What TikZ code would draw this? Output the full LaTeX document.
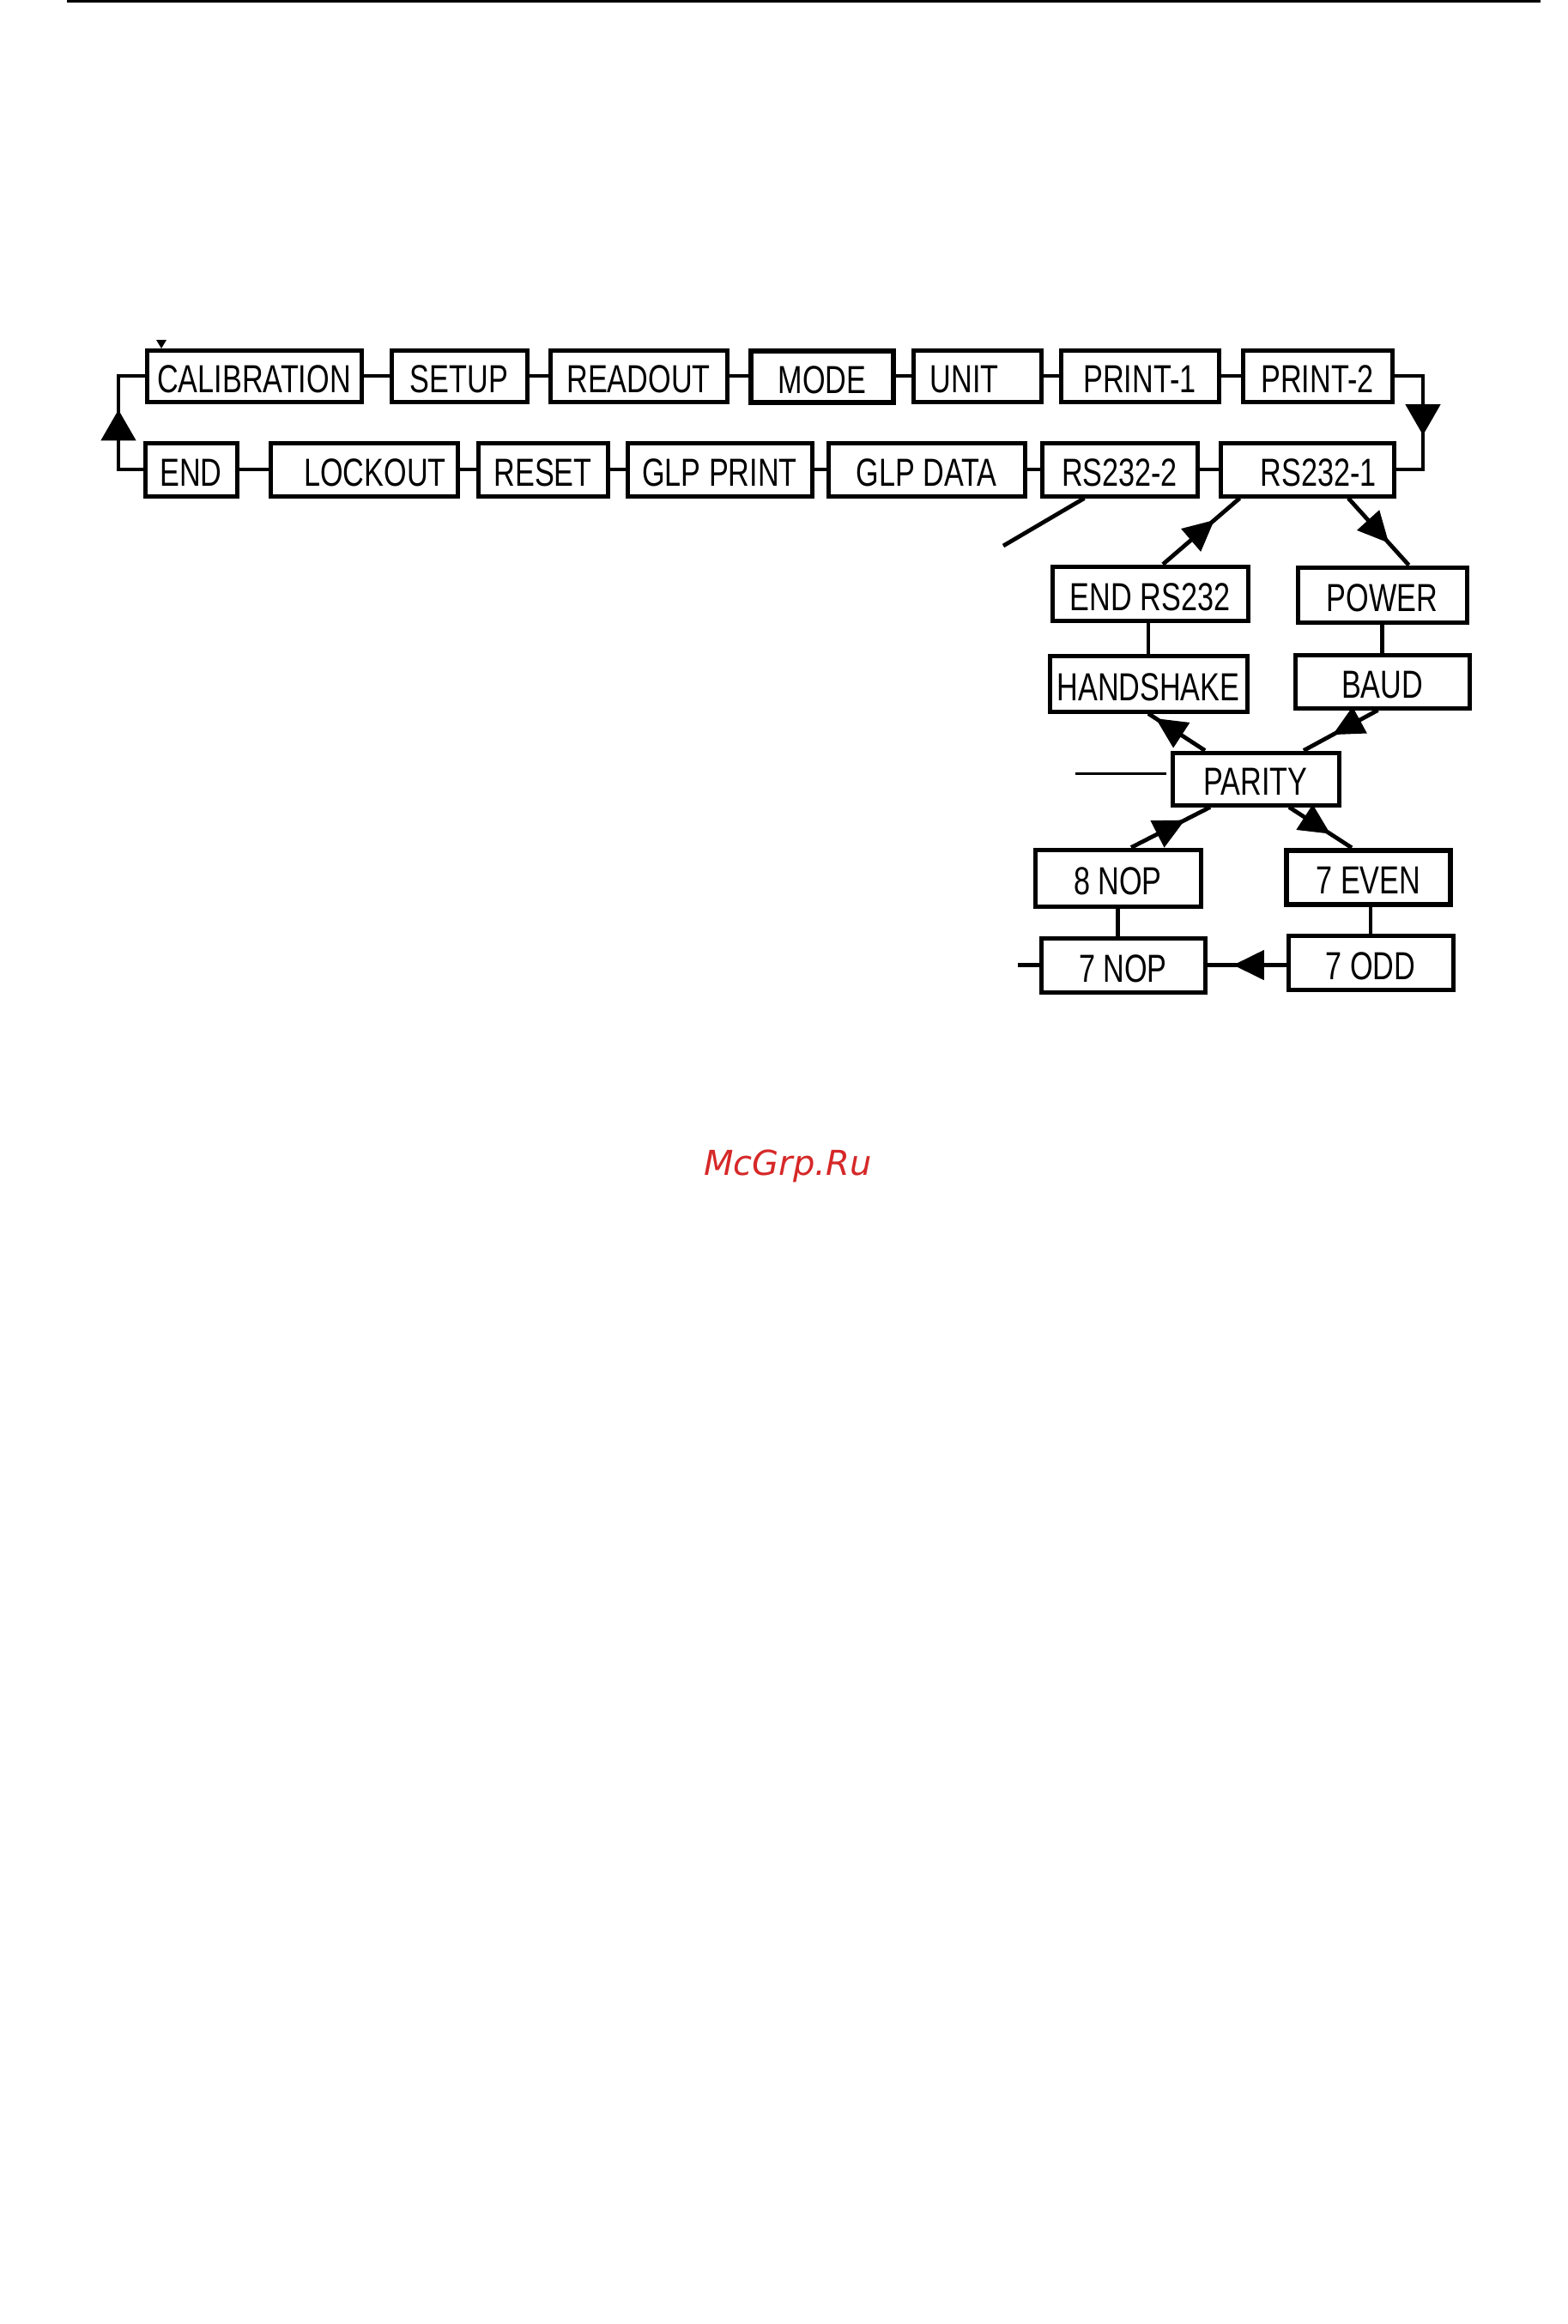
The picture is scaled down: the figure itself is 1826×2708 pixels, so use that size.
\documentclass[tikz,border=0pt]{standalone}
\usepackage{fontspec}
\usepackage{graphicx}
\usetikzlibrary{arrows.meta,decorations.markings,calc}
\newfontfamily\boxfont{Liberation Sans}
\newfontfamily\wmfont{DejaVu Sans}
\newcommand\bx[1]{\raisebox{-1.8pt}[\height][0pt]{\scalebox{0.75}[1]{#1}}}
\definecolor{wmred}{RGB}{214,40,40}
\tikzset{
  box/.style={draw, rectangle, line width=2.5pt, inner sep=0pt,
    font=\boxfont\fontsize{22.8}{27}\selectfont},
  thickbox/.style={box, line width=3.2pt},
  conn/.style={line width=2.4pt},
  thinconn/.style={line width=1.5pt},
  midarrow/.style={postaction={decorate}, decoration={markings,
    mark=at position #1 with {\arrow{Triangle[length=18pt,width=17pt]}}}},
  bigarrow/.style={postaction={decorate}, decoration={markings,
    mark=at position #1 with {\arrow{Triangle[length=18pt,width=20pt]}}}}
}
\begin{document}
\begin{tikzpicture}[x=0.5pt,y=-0.5pt]
\useasboundingbox (0,0) rectangle (1826,2708);
\fill[white] (0,0) rectangle (1826,2708);
% top rule
\draw[line width=2pt] (78,1.5) -- (1795,1.5);
% row 1
\node[box, minimum width=125pt, minimum height=30pt] (CAL) at (296,438) {\bx{CALIBRATION}};
\node[box, minimum width=79pt, minimum height=30pt] (SETUP) at (535,438) {\bx{SETUP}};
\node[box, minimum width=103pt, minimum height=30pt] (READ) at (744,438) {\bx{READOUT}};
\node[thickbox, minimum width=83pt, minimum height=30pt] (MODE) at (958,439) {\bx{MODE}};
\node[box, minimum width=74.5pt, minimum height=30pt] (UNIT) at (1138.5,438) {\bx{UNIT}\hspace*{15pt}};
\node[box, minimum width=92pt, minimum height=30pt] (P1) at (1328,438) {\bx{PRINT-1}};
\node[box, minimum width=87pt, minimum height=30pt] (P2) at (1535,438) {\bx{PRINT-2}};
% row 2
\node[box, minimum width=53.5pt, minimum height=31pt] (END) at (222.5,547) {\bx{END}};
\node[box, minimum width=109pt, minimum height=31pt] (LOCK) at (424,547) {\hspace*{13pt}\bx{LOCKOUT}};
\node[box, minimum width=75.5pt, minimum height=31pt] (RESET) at (632.5,547) {\bx{RESET}};
\node[box, minimum width=107.5pt, minimum height=31pt] (GLPP) at (838.5,547) {\bx{GLP PRINT}};
\node[box, minimum width=114.5pt, minimum height=31pt] (GLPD) at (1079.5,547) {\bx{GLP DATA}};
\node[box, minimum width=90.5pt, minimum height=31pt] (RS2) at (1304.5,547) {\bx{RS232-2}};
\node[box, minimum width=101pt, minimum height=31pt] (RS1) at (1523,547) {\hspace*{13pt}\bx{RS232-1}};
% RS232 sub menu
\node[box, minimum width=114pt, minimum height=31.5pt] (ENDRS) at (1340,691.5) {\bx{END RS232}};
\node[box, minimum width=98.5pt, minimum height=32pt] (POWER) at (1610.5,693) {\bx{POWER}};
\node[box, minimum width=115pt, minimum height=32.5pt] (HS) at (1338,796.5) {\bx{HANDSHAKE}};
\node[box, minimum width=101.5pt, minimum height=31pt] (BAUD) at (1610.5,794) {\bx{BAUD}};
\node[box, minimum width=97pt, minimum height=30.5pt] (PAR) at (1463,907.5) {\bx{PARITY}};
\node[box, minimum width=96.5pt, minimum height=33pt] (N8) at (1302.5,1023) {\bx{8 NOP}};
\node[thickbox, minimum width=95.5pt, minimum height=31.5pt] (E7) at (1594.5,1022.5) {\bx{7 EVEN}};
\node[box, minimum width=95.5pt, minimum height=31.5pt] (N7) at (1308.5,1124.5) {\bx{7 NOP}};
\node[box, minimum width=96pt, minimum height=31.5pt] (O7) at (1597,1121.5) {\bx{7 ODD}};
% small tick on calibration
\fill (182,396) -- (194,396) -- (188,406) -- cycle;
% row connectors
\draw[conn] (CAL) -- (SETUP);
\draw[conn] (SETUP) -- (READ);
\draw[conn] (READ.east) -- (MODE.west |- READ.east);
\draw[conn] (MODE.east |- UNIT.west) -- (UNIT.west);
\draw[conn] (UNIT) -- (P1);
\draw[conn] (P1) -- (P2);
\draw[conn] (END) -- (LOCK);
\draw[conn] (LOCK) -- (RESET);
\draw[conn] (RESET) -- (GLPP);
\draw[conn] (GLPP) -- (GLPD);
\draw[conn] (GLPD) -- (RS2);
\draw[conn] (RS2) -- (RS1);
% loops
\coordinate (lx) at (138,0);
\coordinate (rx) at (1658,0);
\draw[conn, bigarrow=0.584] (END.west) -- (END.west -| lx) -- (CAL.west -| lx) -- (CAL.west);
\draw[conn, bigarrow=0.59] (P2.east) -- (P2.east -| rx) -- (RS1.east -| rx) -- (RS1.east);
% RS232-2 free line
\coordinate (rs2end) at (1169,636);
\draw[conn] ($(RS2.south)+(-41,0)$) -- (rs2end);
% sub menu connectors
\draw[conn, midarrow=0.67] ($(ENDRS.north)+(15,0)$) -- ($(RS1.south west)+(25,0)$);
\draw[conn, midarrow=0.67] ($(RS1.south)+(48,0)$) -- ($(POWER.north)+(31,0)$);
\draw[conn] (ENDRS.south -| HS.north) -- (HS.north);
\draw[conn] (POWER) -- (BAUD);
\draw[conn, midarrow=0.87] ($(PAR.north)+(-59,0)$) -- (HS.south);
\draw[conn, midarrow=0.61] ($(BAUD.south)+(-5,0)$) -- ($(PAR.north)+(56,0)$);
\draw[conn, midarrow=0.66] ($(PAR.south)+(39,0)$) -- ($(E7.north)+(-19.5,0)$);
\draw[conn, midarrow=0.68] ($(N8.north)+(15.5,0)$) -- ($(PAR.south)+(-53,0)$);
\draw[conn] (N8.south) -- (N8.south |- N7.north);
\draw[conn] (E7.south -| O7.north) -- (O7.north);
\draw[conn, midarrow=0.67] (N7.east -| O7.west) -- (N7.east);
% free lines
\coordinate (parl) at (1253,901);
\draw[thinconn] (PAR.west |- parl) ++(-5,0) -- (parl);
\coordinate (n7l) at (1186,1124.5);
\draw[conn] (N7.west) -- (n7l);
% watermark
\node[font=\wmfont\itshape\fontsize{20}{24}\selectfont, text=wmred, anchor=base] (wm) at (918,1369) {McGrp.Ru};
\end{tikzpicture}
\end{document}
